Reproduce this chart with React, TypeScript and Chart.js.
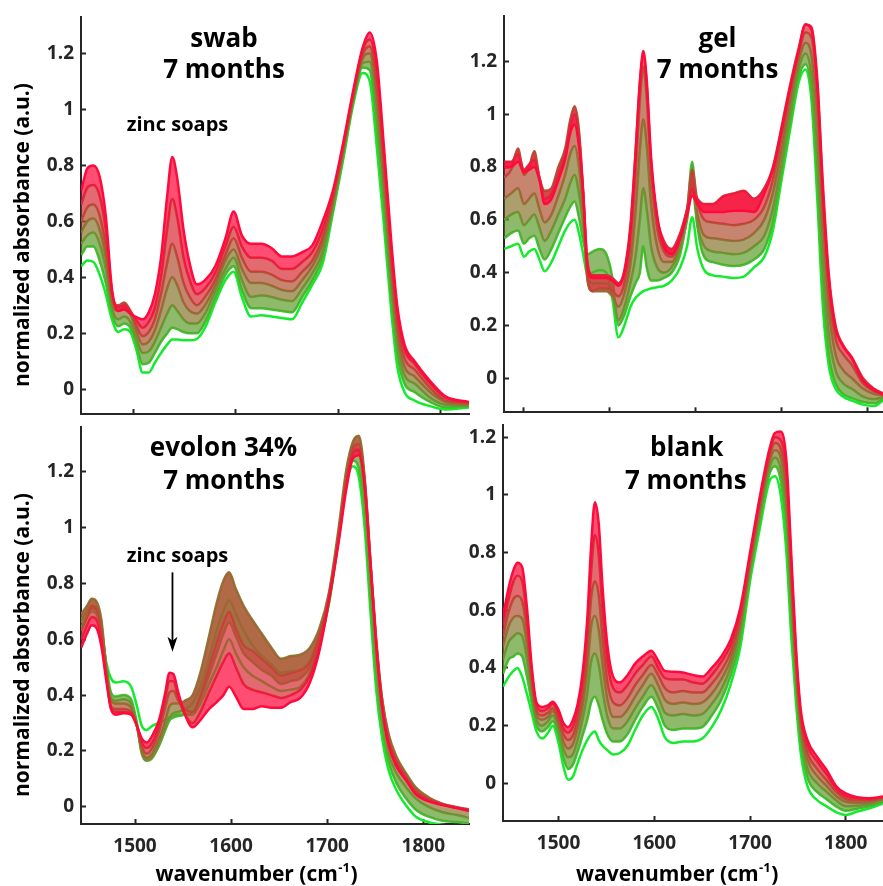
import React, { useEffect, useRef } from "react";
import { Chart, registerables } from "chart.js";

Chart.register(...registerables);

const W = 883;
const H = 886;
const AXIS = "#262626";
const FONT = "'Open Sans', 'Noto Sans', sans-serif";
const GREEN = [20, 235, 45];
const RED = [255, 10, 60];
const FILL_ALPHA = 0.72;
const Y_W = 60;
const X_H = 40;

// ---------- tick labels ----------
const yTickValues = [0, 0.2, 0.4, 0.6, 0.8, 1, 1.2];
const xTickValues = [1500, 1600, 1700, 1800];
const xTickValuesGel = [1400, 1500, 1600, 1700, 1800];

// ---------- swab, 7 months ----------
const swabX = [1449,1455,1461,1467,1473,1479,1485,1491,1497,1503,1509,1515,1521,1527,1533,1538,1543,1549,1555,1562,1570,1580,1590,1598,1606,1615,1625,1635,1645,1655,1665,1675,1685,1695,1705,1715,1724,1731,1738,1745,1752,1758,1765,1775,1790,1805,1828];
const swab0 = [0.44,0.46,0.455,0.41,0.34,0.25,0.205,0.215,0.205,0.14,0.06,0.06,0.095,0.13,0.16,0.178,0.178,0.175,0.175,0.18,0.22,0.31,0.39,0.42,0.33,0.26,0.265,0.26,0.255,0.25,0.31,0.375,0.45,0.63,0.82,1.02,1.13,1.10,0.86,0.58,0.28,0.08,-0.01,-0.04,-0.06,-0.072,-0.065];
const swab1 = [0.48,0.51,0.51,0.46,0.38,0.27,0.225,0.235,0.22,0.16,0.09,0.095,0.13,0.17,0.20,0.22,0.215,0.205,0.20,0.20,0.24,0.325,0.41,0.44,0.355,0.29,0.29,0.285,0.28,0.275,0.33,0.39,0.47,0.64,0.83,1.03,1.15,1.14,0.92,0.63,0.32,0.12,0.02,-0.01,-0.045,-0.065,-0.062];
const swab2 = [0.52,0.55,0.56,0.52,0.43,0.29,0.25,0.26,0.24,0.18,0.13,0.135,0.17,0.22,0.27,0.30,0.28,0.25,0.235,0.235,0.27,0.35,0.43,0.47,0.39,0.33,0.335,0.33,0.32,0.315,0.36,0.415,0.49,0.65,0.84,1.035,1.165,1.17,0.98,0.68,0.37,0.16,0.05,0.02,-0.03,-0.055,-0.058];
const swab3 = [0.56,0.60,0.61,0.57,0.47,0.31,0.28,0.29,0.27,0.205,0.16,0.17,0.21,0.28,0.36,0.40,0.37,0.31,0.28,0.27,0.30,0.37,0.46,0.50,0.43,0.38,0.38,0.37,0.355,0.35,0.39,0.44,0.52,0.665,0.85,1.045,1.18,1.20,1.03,0.73,0.41,0.19,0.08,0.045,-0.01,-0.045,-0.055];
const swab4 = [0.60,0.65,0.66,0.62,0.51,0.33,0.30,0.31,0.28,0.225,0.19,0.205,0.25,0.34,0.45,0.52,0.47,0.38,0.33,0.30,0.33,0.39,0.48,0.54,0.47,0.42,0.42,0.41,0.39,0.385,0.42,0.46,0.54,0.68,0.86,1.05,1.195,1.225,1.08,0.78,0.45,0.225,0.11,0.07,0.005,-0.04,-0.05];
const swab5 = [0.66,0.72,0.73,0.69,0.57,0.35,0.295,0.30,0.28,0.245,0.22,0.24,0.29,0.40,0.57,0.68,0.61,0.47,0.39,0.34,0.36,0.415,0.51,0.58,0.51,0.47,0.47,0.46,0.43,0.43,0.455,0.49,0.57,0.695,0.87,1.06,1.21,1.25,1.13,0.83,0.49,0.26,0.14,0.09,0.02,-0.03,-0.048];
const swab6 = [0.71,0.79,0.80,0.76,0.62,0.36,0.28,0.285,0.27,0.258,0.25,0.275,0.34,0.47,0.69,0.83,0.75,0.57,0.45,0.375,0.39,0.44,0.54,0.635,0.55,0.52,0.52,0.505,0.475,0.475,0.49,0.515,0.60,0.71,0.88,1.07,1.22,1.275,1.17,0.86,0.53,0.295,0.16,0.10,0.03,-0.025,-0.045];

// ---------- gel, 7 months ----------
const gelX = [1377,1385,1393,1400,1406,1412,1418,1424,1432,1440,1448,1454,1459,1464,1469,1474,1480,1488,1496,1503,1510,1517,1524,1530,1535,1539,1543,1548,1555,1563,1572,1582,1590,1596,1602,1610,1620,1632,1644,1656,1668,1680,1690,1700,1710,1720,1728,1735,1742,1748,1755,1763,1772,1782,1795,1808,1820];
const gel0 = [0.49,0.50,0.51,0.46,0.48,0.49,0.45,0.405,0.44,0.50,0.56,0.59,0.60,0.55,0.47,0.39,0.40,0.41,0.40,0.30,0.155,0.20,0.27,0.305,0.32,0.33,0.335,0.34,0.345,0.35,0.37,0.42,0.50,0.61,0.49,0.41,0.39,0.385,0.38,0.385,0.42,0.46,0.56,0.75,0.94,1.12,1.17,1.05,0.66,0.28,0.05,-0.04,-0.07,-0.085,-0.10,-0.105,-0.08];
const gel1 = [0.53,0.55,0.56,0.51,0.53,0.54,0.49,0.45,0.49,0.55,0.61,0.65,0.67,0.61,0.52,0.47,0.48,0.49,0.47,0.38,0.20,0.24,0.31,0.36,0.40,0.50,0.42,0.37,0.37,0.38,0.40,0.47,0.62,0.82,0.58,0.46,0.44,0.43,0.425,0.43,0.45,0.49,0.59,0.77,0.96,1.14,1.19,1.08,0.72,0.34,0.09,-0.02,-0.06,-0.075,-0.09,-0.095,-0.075];
const gel2 = [0.60,0.62,0.63,0.58,0.60,0.62,0.57,0.52,0.56,0.62,0.68,0.74,0.77,0.70,0.58,0.40,0.36,0.36,0.36,0.32,0.22,0.27,0.36,0.46,0.60,0.72,0.64,0.50,0.42,0.40,0.42,0.49,0.60,0.72,0.58,0.50,0.48,0.475,0.47,0.475,0.50,0.54,0.64,0.81,1.00,1.17,1.23,1.14,0.82,0.45,0.17,0.03,-0.02,-0.04,-0.07,-0.08,-0.07];
const gel3 = [0.68,0.70,0.72,0.66,0.68,0.70,0.64,0.59,0.62,0.69,0.77,0.85,0.88,0.80,0.62,0.37,0.33,0.33,0.33,0.31,0.27,0.32,0.43,0.63,0.86,0.98,0.88,0.66,0.50,0.44,0.44,0.51,0.62,0.74,0.62,0.54,0.53,0.525,0.52,0.525,0.55,0.60,0.70,0.86,1.04,1.20,1.27,1.22,0.95,0.58,0.26,0.09,0.03,0.0,-0.04,-0.06,-0.065];
const gel4 = [0.76,0.79,0.87,0.77,0.80,0.86,0.76,0.71,0.72,0.80,0.87,0.98,1.03,0.94,0.70,0.38,0.33,0.34,0.34,0.33,0.31,0.36,0.50,0.78,1.05,1.18,1.06,0.78,0.57,0.48,0.46,0.53,0.64,0.79,0.67,0.60,0.59,0.585,0.58,0.585,0.60,0.65,0.75,0.91,1.08,1.23,1.31,1.29,1.06,0.66,0.33,0.15,0.09,0.05,-0.02,-0.05,-0.065];
const gel5 = [0.82,0.82,0.85,0.79,0.81,0.83,0.76,0.68,0.70,0.77,0.85,0.96,1.00,0.92,0.70,0.44,0.39,0.39,0.39,0.38,0.36,0.41,0.58,0.86,1.12,1.22,1.11,0.82,0.61,0.52,0.49,0.55,0.64,0.72,0.68,0.66,0.66,0.69,0.70,0.71,0.68,0.72,0.80,0.95,1.11,1.25,1.34,1.33,1.12,0.75,0.40,0.20,0.125,0.08,0.0,-0.04,-0.06];
const gel6 = [0.80,0.80,0.82,0.78,0.79,0.80,0.75,0.66,0.68,0.75,0.83,0.93,0.96,0.88,0.70,0.42,0.38,0.38,0.38,0.37,0.35,0.40,0.56,0.85,1.12,1.24,1.13,0.84,0.62,0.50,0.47,0.53,0.62,0.69,0.66,0.63,0.63,0.63,0.635,0.635,0.63,0.70,0.79,0.94,1.10,1.24,1.34,1.32,1.10,0.72,0.38,0.19,0.12,0.075,-0.01,-0.045,-0.063];

// ---------- evolon 34%, 7 months ----------
const evoX = [1444,1450,1455,1460,1465,1470,1475,1480,1488,1496,1502,1507,1512,1518,1525,1531,1536,1540,1545,1552,1560,1568,1577,1585,1592,1598,1605,1613,1622,1632,1642,1652,1662,1672,1682,1692,1702,1712,1720,1727,1733,1739,1745,1751,1757,1764,1772,1782,1792,1805,1820,1835,1848];
const evo0 = [0.64,0.68,0.70,0.69,0.63,0.52,0.46,0.445,0.45,0.43,0.36,0.29,0.275,0.29,0.30,0.31,0.32,0.325,0.33,0.33,0.33,0.37,0.44,0.50,0.56,0.60,0.55,0.50,0.47,0.45,0.43,0.415,0.42,0.43,0.48,0.58,0.73,0.96,1.16,1.22,1.18,1.00,0.70,0.42,0.25,0.13,0.06,0.005,-0.035,-0.055,-0.065,-0.07,-0.075];
const evo1 = [0.66,0.69,0.71,0.70,0.64,0.51,0.41,0.395,0.40,0.385,0.30,0.20,0.17,0.18,0.22,0.27,0.31,0.32,0.325,0.33,0.34,0.39,0.47,0.55,0.62,0.66,0.61,0.55,0.52,0.49,0.47,0.44,0.45,0.46,0.50,0.59,0.735,0.97,1.17,1.24,1.21,1.04,0.74,0.46,0.28,0.16,0.085,0.03,-0.01,-0.035,-0.05,-0.055,-0.06];
const evo2 = [0.67,0.70,0.72,0.71,0.65,0.50,0.39,0.38,0.385,0.37,0.29,0.19,0.165,0.175,0.22,0.275,0.32,0.335,0.34,0.35,0.37,0.43,0.53,0.63,0.70,0.74,0.69,0.63,0.58,0.54,0.51,0.48,0.485,0.49,0.52,0.61,0.75,0.98,1.19,1.28,1.27,1.10,0.80,0.51,0.32,0.19,0.12,0.07,0.03,0.0,-0.02,-0.03,-0.04];
const evo3 = [0.69,0.72,0.745,0.735,0.67,0.50,0.38,0.37,0.37,0.355,0.29,0.20,0.175,0.19,0.24,0.30,0.36,0.37,0.37,0.38,0.40,0.48,0.61,0.73,0.81,0.84,0.78,0.72,0.67,0.62,0.57,0.53,0.54,0.545,0.57,0.64,0.77,1.00,1.21,1.31,1.33,1.18,0.88,0.59,0.39,0.26,0.18,0.12,0.07,0.035,0.01,-0.005,-0.015];
const evo4 = [0.63,0.68,0.72,0.71,0.64,0.48,0.36,0.35,0.35,0.34,0.29,0.215,0.19,0.21,0.27,0.35,0.41,0.415,0.38,0.35,0.34,0.40,0.50,0.59,0.66,0.70,0.64,0.58,0.56,0.53,0.50,0.47,0.48,0.49,0.52,0.62,0.76,0.98,1.18,1.29,1.30,1.17,0.88,0.60,0.39,0.25,0.17,0.11,0.06,0.03,0.01,-0.002,-0.01];
const evo5 = [0.60,0.65,0.68,0.67,0.60,0.47,0.355,0.34,0.34,0.335,0.29,0.23,0.21,0.23,0.29,0.38,0.45,0.45,0.39,0.33,0.30,0.34,0.41,0.47,0.52,0.55,0.50,0.44,0.42,0.41,0.40,0.39,0.40,0.42,0.47,0.58,0.75,0.96,1.16,1.27,1.28,1.16,0.87,0.59,0.37,0.23,0.155,0.10,0.05,0.025,0.008,-0.003,-0.012];
const evo6 = [0.57,0.62,0.65,0.64,0.575,0.455,0.35,0.33,0.335,0.33,0.29,0.245,0.23,0.255,0.31,0.40,0.48,0.475,0.41,0.33,0.285,0.31,0.35,0.375,0.40,0.43,0.395,0.35,0.35,0.36,0.355,0.355,0.375,0.39,0.445,0.56,0.74,0.95,1.14,1.25,1.26,1.15,0.87,0.58,0.36,0.22,0.145,0.095,0.045,0.02,0.006,-0.005,-0.015];

// ---------- blank, 7 months ----------
const blankX = [1442,1448,1453,1457,1462,1467,1472,1477,1483,1489,1494,1500,1505,1510,1515,1520,1525,1530,1534,1538,1542,1546,1551,1557,1564,1572,1580,1588,1597,1604,1611,1620,1630,1640,1650,1660,1670,1680,1690,1700,1710,1720,1726,1732,1738,1743,1748,1753,1760,1770,1780,1790,1800,1812,1825,1839];
const blank0 = [0.335,0.37,0.39,0.40,0.37,0.31,0.245,0.18,0.155,0.175,0.20,0.14,0.06,0.012,0.023,0.07,0.115,0.15,0.17,0.18,0.15,0.13,0.115,0.10,0.105,0.13,0.185,0.235,0.265,0.225,0.16,0.14,0.145,0.145,0.155,0.195,0.255,0.345,0.475,0.70,0.88,1.045,1.065,1.00,0.80,0.51,0.28,0.105,-0.01,-0.058,-0.08,-0.10,-0.11,-0.098,-0.087,-0.07];
const blank1 = [0.38,0.43,0.44,0.45,0.44,0.37,0.28,0.20,0.18,0.195,0.215,0.165,0.09,0.05,0.065,0.11,0.165,0.22,0.28,0.30,0.27,0.22,0.17,0.145,0.145,0.17,0.22,0.265,0.30,0.26,0.20,0.185,0.19,0.19,0.195,0.235,0.29,0.375,0.50,0.72,0.90,1.07,1.10,1.05,0.87,0.57,0.32,0.135,0.02,-0.03,-0.055,-0.08,-0.095,-0.088,-0.08,-0.065];
const blank2 = [0.43,0.49,0.51,0.52,0.51,0.43,0.31,0.22,0.20,0.215,0.235,0.185,0.12,0.09,0.10,0.15,0.22,0.31,0.42,0.45,0.41,0.32,0.23,0.19,0.19,0.215,0.26,0.30,0.34,0.30,0.245,0.235,0.24,0.235,0.24,0.275,0.325,0.405,0.53,0.74,0.925,1.09,1.13,1.09,0.93,0.63,0.36,0.165,0.05,0.0,-0.03,-0.06,-0.08,-0.078,-0.073,-0.06];
const blank3 = [0.475,0.545,0.575,0.58,0.57,0.48,0.335,0.235,0.22,0.23,0.25,0.205,0.145,0.12,0.135,0.19,0.265,0.39,0.54,0.58,0.53,0.41,0.29,0.23,0.23,0.255,0.30,0.34,0.38,0.34,0.29,0.275,0.28,0.275,0.28,0.31,0.36,0.43,0.55,0.755,0.945,1.11,1.155,1.13,0.98,0.68,0.39,0.19,0.08,0.025,-0.01,-0.045,-0.065,-0.068,-0.066,-0.055];
const blank4 = [0.51,0.595,0.64,0.65,0.63,0.53,0.36,0.25,0.235,0.245,0.26,0.22,0.17,0.15,0.165,0.22,0.305,0.45,0.64,0.70,0.65,0.50,0.35,0.28,0.27,0.295,0.34,0.375,0.41,0.375,0.33,0.315,0.32,0.315,0.315,0.345,0.39,0.455,0.57,0.77,0.96,1.125,1.18,1.16,1.03,0.72,0.42,0.215,0.105,0.05,0.01,-0.03,-0.055,-0.06,-0.06,-0.05];
const blank5 = [0.55,0.64,0.70,0.72,0.70,0.57,0.385,0.27,0.25,0.26,0.275,0.24,0.19,0.175,0.195,0.25,0.345,0.52,0.73,0.86,0.79,0.60,0.42,0.33,0.315,0.34,0.38,0.41,0.44,0.40,0.365,0.36,0.36,0.35,0.345,0.375,0.42,0.48,0.59,0.785,0.975,1.14,1.20,1.19,1.08,0.76,0.45,0.235,0.13,0.075,0.03,-0.02,-0.045,-0.053,-0.055,-0.048];
const blank6 = [0.58,0.68,0.74,0.765,0.75,0.61,0.405,0.28,0.265,0.27,0.283,0.255,0.21,0.195,0.22,0.275,0.38,0.57,0.82,0.975,0.90,0.68,0.48,0.37,0.35,0.375,0.415,0.44,0.46,0.425,0.39,0.387,0.384,0.376,0.37,0.40,0.44,0.50,0.61,0.80,0.99,1.155,1.215,1.22,1.12,0.80,0.47,0.255,0.15,0.092,0.046,-0.01,-0.035,-0.048,-0.052,-0.046];

// ---------- panel layout / styling ----------
interface TextItem { text: string; x: number; y: number; size: number; }
interface PanelSpec {
  xs: number[];
  ys: number[][];
  xMin: number; xMax: number; yMin: number; yMax: number;
  xTicks: number[];
  xLabels: boolean;
  area: { left: number; top: number; right: number; bottom: number };
  fillFrom: number;
  texts: TextItem[];
  arrow?: { x: number; y1: number; y2: number };
  yTitle?: { x: number; y: number };
  xTitle?: { x: number; y: number };
}

const PANELS: PanelSpec[] = [
  {
    xs: swabX, ys: [swab0, swab1, swab2, swab3, swab4, swab5, swab6],
    xMin: 1448.8, xMax: 1828, yMin: -0.088, yMax: 1.33,
    xTicks: xTickValues, xLabels: false,
    area: { left: 81, top: 17, right: 469, bottom: 414 },
    fillFrom: 2,
    texts: [
      { text: "swab", x: 224, y: 46.7, size: 26 },
      { text: "7 months", x: 224, y: 78.3, size: 26 },
      { text: "zinc soaps", x: 177.5, y: 130.7, size: 20 },
    ],
    yTitle: { x: 28.5, y: 235 },
  },
  {
    xs: gelX, ys: [gel0, gel1, gel2, gel3, gel4, gel5, gel6],
    xMin: 1376.7, xMax: 1818.3, yMin: -0.129, yMax: 1.3735,
    xTicks: xTickValuesGel, xLabels: false,
    area: { left: 504, top: 15.7, right: 883, bottom: 412.3 },
    fillFrom: 2,
    texts: [
      { text: "gel", x: 717.5, y: 46.7, size: 26 },
      { text: "7 months", x: 717.5, y: 78.3, size: 26 },
    ],
  },
  {
    xs: evoX, ys: [evo0, evo1, evo2, evo3, evo4, evo5, evo6],
    xMin: 1443.8, xMax: 1847.6, yMin: -0.062, yMax: 1.36,
    xTicks: xTickValues, xLabels: true,
    area: { left: 81, top: 427.3, right: 469, bottom: 824 },
    fillFrom: 2,
    texts: [
      { text: "evolon 34%", x: 223.5, y: 456, size: 26 },
      { text: "7 months", x: 224, y: 489.3, size: 26 },
      { text: "zinc soaps", x: 177.5, y: 561.7, size: 20 },
    ],
    arrow: { x: 1539, y1: 0.84, y2: 0.555 },
    yTitle: { x: 28.5, y: 645 },
    xTitle: { x: 256, y: 881 },
  },
  {
    xs: blankX, ys: [blank0, blank1, blank2, blank3, blank4, blank5, blank6],
    xMin: 1442, xMax: 1838.9, yMin: -0.1308, yMax: 1.2438,
    xTicks: xTickValues, xLabels: true,
    area: { left: 503, top: 424.7, right: 883, bottom: 821 },
    fillFrom: 2,
    texts: [
      { text: "blank", x: 686.7, y: 456, size: 26 },
      { text: "7 months", x: 685.8, y: 489.3, size: 26 },
    ],
    xTitle: { x: 676.7, y: 881 },
  },
];

function mix(t: number, a: number): string {
  const c = GREEN.map((g, k) => Math.round(g + (RED[k] - g) * t));
  return `rgba(${c[0]},${c[1]},${c[2]},${a})`;
}

const decor = {
  id: "decor",
  afterDraw(chart: any, _args: any, o: any) {
    const ctx: CanvasRenderingContext2D = chart.ctx;
    ctx.save();
    ctx.fillStyle = "#000";
    ctx.strokeStyle = "#000";
    ctx.textAlign = "center";
    ctx.textBaseline = "alphabetic";
    for (const t of o.texts as TextItem[]) {
      ctx.font = `bold ${t.size}px ${FONT}`;
      ctx.fillText(t.text, t.x, t.y);
    }
    if (o.arrow) {
      const px = chart.scales.x.getPixelForValue(o.arrow.x);
      const p1 = chart.scales.y.getPixelForValue(o.arrow.y1);
      const p2 = chart.scales.y.getPixelForValue(o.arrow.y2);
      ctx.lineWidth = 1.8;
      ctx.beginPath();
      ctx.moveTo(px, p1);
      ctx.lineTo(px, p2 - 8);
      ctx.stroke();
      ctx.beginPath();
      ctx.moveTo(px, p2);
      ctx.lineTo(px - 5, p2 - 15);
      ctx.lineTo(px, p2 - 11);
      ctx.lineTo(px + 5, p2 - 15);
      ctx.closePath();
      ctx.fill();
    }
    if (o.yTitle) {
      ctx.save();
      ctx.translate(o.yTitle.x, o.yTitle.y);
      ctx.rotate(-Math.PI / 2);
      ctx.font = `bold 21px ${FONT}`;
      ctx.fillText("normalized absorbance (a.u.)", 0, 0);
      ctx.restore();
    }
    if (o.xTitle) {
      const main = "wavenumber (cm";
      const sup = "-1";
      const end = ")";
      ctx.font = `bold 21px ${FONT}`;
      const w1 = ctx.measureText(main).width;
      const w3 = ctx.measureText(end).width;
      ctx.font = `bold 13px ${FONT}`;
      const w2 = ctx.measureText(sup).width;
      const x0 = o.xTitle.x - (w1 + w2 + w3) / 2;
      ctx.textAlign = "left";
      ctx.font = `bold 21px ${FONT}`;
      ctx.fillText(main, x0, o.xTitle.y);
      ctx.font = `bold 13px ${FONT}`;
      ctx.fillText(sup, x0 + w1 + 0.5, o.xTitle.y - 9);
      ctx.font = `bold 21px ${FONT}`;
      ctx.fillText(end, x0 + w1 + w2 + 1, o.xTitle.y);
    }
    ctx.restore();
  },
};

function buildConfig(p: PanelSpec): any {
  const n = p.ys.length;
  const datasets = p.ys.map((arr, i) => {
    const t = i / (n - 1);
    return {
      data: p.xs.map((x, j) => ({ x, y: arr[j] })),
      borderColor: mix(t, 1),
      backgroundColor: mix(t, FILL_ALPHA),
      borderWidth: 2.5,
      pointRadius: 0,
      fill: i >= p.fillFrom ? "-1" : false,
      cubicInterpolationMode: "monotone",
      order: n - i,
    };
  });
  const tickFont = { family: FONT, size: 19, weight: "bold" as const };
  const grid = {
    display: true,
    drawOnChartArea: false,
    drawTicks: true,
    tickLength: -5,
    tickColor: AXIS,
    tickWidth: 2,
  };
  const border = { display: true, color: AXIS, width: 2 };
  return {
    type: "line",
    data: { datasets },
    options: {
      responsive: false,
      maintainAspectRatio: false,
      animation: false,
      devicePixelRatio: 1,
      events: [],
      layout: {
        padding: {
          left: p.area.left - Y_W,
          right: W - p.area.right,
          top: p.area.top,
          bottom: H - p.area.bottom - X_H,
        },
      },
      plugins: {
        legend: { display: false },
        tooltip: { enabled: false },
        decor: { texts: p.texts, arrow: p.arrow, yTitle: p.yTitle, xTitle: p.xTitle },
      },
      scales: {
        x: {
          type: "linear",
          min: p.xMin,
          max: p.xMax,
          afterBuildTicks: (s: any) => {
            s.ticks = p.xTicks.map((v) => ({ value: v }));
          },
          afterFit: (s: any) => {
            s.height = X_H;
            s.paddingLeft = 0;
            s.paddingRight = 0;
          },
          ticks: {
            display: p.xLabels,
            font: tickFont,
            color: AXIS,
            padding: 16,
            maxRotation: 0,
            autoSkip: false,
            callback: (v: any) => String(v),
          },
          grid,
          border,
        },
        y: {
          type: "linear",
          min: p.yMin,
          max: p.yMax,
          afterBuildTicks: (s: any) => {
            s.ticks = yTickValues.map((v) => ({ value: v }));
          },
          afterFit: (s: any) => {
            s.width = Y_W;
            s.paddingTop = 0;
            s.paddingBottom = 0;
          },
          ticks: {
            font: tickFont,
            color: AXIS,
            padding: 12,
            autoSkip: false,
            callback: (v: any) => Number(v).toFixed(1).replace(/\.0$/, ""),
          },
          grid,
          border,
        },
      },
    },
    plugins: [decor],
  };
}

function Panel({ spec }: { spec: PanelSpec }) {
  const ref = useRef<HTMLCanvasElement>(null);
  useEffect(() => {
    if (!ref.current) return;
    const chart = new Chart(ref.current, buildConfig(spec));
    return () => chart.destroy();
  }, [spec]);
  return (
    <canvas
      ref={ref}
      width={W}
      height={H}
      style={{ position: "absolute", left: 0, top: 0, width: W, height: H }}
    />
  );
}

export default function App() {
  return (
    <div style={{ position: "absolute", left: 0, top: 0, width: W, height: H, background: "#fff" }}>
      {PANELS.map((p, i) => (
        <Panel key={i} spec={p} />
      ))}
    </div>
  );
}
